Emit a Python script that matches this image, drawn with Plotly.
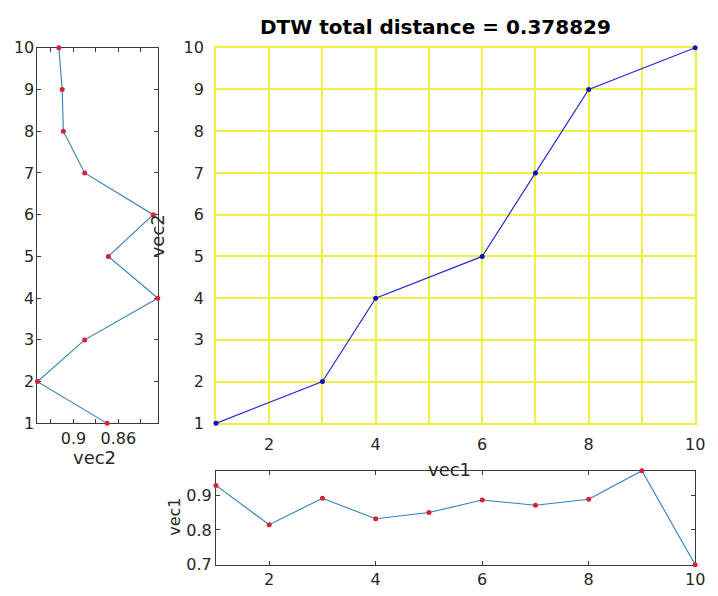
import plotly.graph_objects as go

# ---- data ----
idx = list(range(1, 11))
vec1 = [0.928, 0.815, 0.891, 0.832, 0.850, 0.886, 0.871, 0.888, 0.970, 0.700]
vec2 = [0.870, 0.932, 0.890, 0.825, 0.869, 0.829, 0.890, 0.909, 0.910, 0.913]
path_i = [1, 3, 4, 6, 7, 8, 10]
path_j = [1, 2, 4, 5, 7, 9, 10]
dtw_total = 0.378829

main_xticks = [2, 4, 6, 8, 10]
main_yticks = list(range(1, 11))
left_xticks = [0.84, 0.86, 0.88, 0.90, 0.92]
left_xticktext = ["", "0.86", "", "0.9", ""]
bottom_yticks = [0.7, 0.8, 0.9]

W, H = 718, 596
def px(x):
    return x / W
def py(y):
    return 1 - y / H

FONT = "DejaVu Sans"
TXT = "#262626"
AX = "#3a3a3a"
YEL = "#f0f040"
LINE_C = "#2f7fc0"
DOT_C = "#d8203a"

fig = go.Figure()

# left panel: vec2 vertical
fig.add_trace(go.Scatter(x=vec2, y=idx, mode="lines", line=dict(color=LINE_C, width=1.1),
                         xaxis="x", yaxis="y", showlegend=False, hoverinfo="skip",
                         cliponaxis=False))
fig.add_trace(go.Scatter(x=vec2, y=idx, mode="markers", marker=dict(color=DOT_C, size=5),
                         xaxis="x", yaxis="y", showlegend=False, cliponaxis=False))
# main panel: warping path
fig.add_trace(go.Scatter(x=path_i, y=path_j, mode="lines+markers",
                         line=dict(color="#2a2ae0", width=1.2),
                         marker=dict(color="#1010c0", size=5),
                         xaxis="x2", yaxis="y2", showlegend=False, cliponaxis=False))
# bottom panel: vec1
fig.add_trace(go.Scatter(x=idx, y=vec1, mode="lines", line=dict(color=LINE_C, width=1.1),
                         xaxis="x3", yaxis="y3", showlegend=False, hoverinfo="skip",
                         cliponaxis=False))
fig.add_trace(go.Scatter(x=idx, y=vec1, mode="markers", marker=dict(color=DOT_C, size=5),
                         xaxis="x3", yaxis="y3", showlegend=False, cliponaxis=False))

tickfont = dict(family=FONT, size=16, color=TXT)
box = dict(showline=True, linecolor=AX, linewidth=1, mirror="ticks", ticks="inside",
           ticklen=4, tickcolor=AX, showgrid=False, zeroline=False, tickfont=tickfont,
           layer="below traces")

fig.update_layout(
    width=W, height=H, margin=dict(l=0, r=0, t=0, b=0),
    paper_bgcolor="white", plot_bgcolor="white",
    font=dict(family=FONT, color=TXT),
    xaxis=dict(domain=[px(38), px(160)], anchor="y",
               range=[max(vec2), min(vec2)], tickvals=left_xticks, ticktext=left_xticktext,
               **box),
    yaxis=dict(domain=[py(428), py(40)], anchor="x", range=[1, 10],
               tickvals=main_yticks, ticklabelstandoff=-1, **box),
    xaxis2=dict(domain=[px(219), px(705)], anchor="y2", range=[1, 10],
                tickvals=main_xticks, showgrid=True, gridcolor=YEL, gridwidth=1.6,
                minor=dict(dtick=1, tick0=1, showgrid=True, gridcolor=YEL, gridwidth=1.6),
                showline=True, linecolor=YEL, linewidth=1.6, mirror=True,
                ticks="", zeroline=False, tickfont=tickfont, ticklabelstandoff=6,
                layer="below traces"),
    yaxis2=dict(domain=[py(428), py(40)], anchor="x2", range=[1, 10],
                tickvals=main_yticks, showgrid=True, gridcolor=YEL, gridwidth=1.6,
                showline=True, linecolor=YEL, linewidth=1.6, mirror=True,
                ticks="", zeroline=False, tickfont=tickfont, ticklabelstandoff=7,
                layer="below traces"),
    xaxis3=dict(domain=[px(219), px(705)], anchor="y3", range=[1, 10],
                tickvals=main_xticks, **box),
    yaxis3=dict(domain=[py(574), py(477)], anchor="x3",
                range=[min(vec1), max(vec1)], tickvals=bottom_yticks,
                tickformat=".1f", **box),
)

lab = dict(family=FONT, size=18, color=TXT)
ann = [
    dict(text=f"<b>DTW total distance = {dtw_total:.6f}</b>", x=px(442), y=py(19),
         font=dict(family=FONT, size=20, color="black")),
    dict(text="vec1", x=px(456), y=py(476), font=lab),
    dict(text="vec2", x=px(160), y=py(234), font=lab, textangle=-90),
    dict(text="vec2", x=px(96), y=py(463), font=lab),
    dict(text="vec1", x=px(177), y=py(525), font=dict(family=FONT, size=16, color=TXT),
         textangle=-90),
]
for a in ann:
    a.update(xref="paper", yref="paper", showarrow=False, xanchor="center", yanchor="middle")
fig.update_layout(annotations=ann)

fig.write_html("out.html")
